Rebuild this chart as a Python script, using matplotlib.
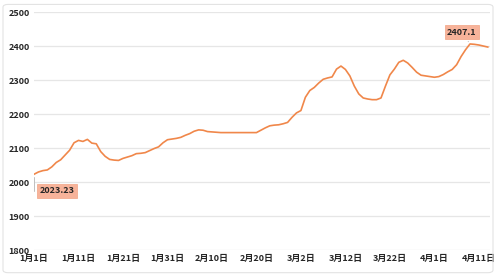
import pandas as pd
import numpy as np
import matplotlib
matplotlib.use("Agg")
import matplotlib.pyplot as plt
from matplotlib.patches import FancyBboxPatch

plt.rcParams['font.family'] = ['Noto Sans CJK SC', 'DejaVu Sans']

# daily index values (1 Jan .. 13 Apr)
start_date = "2023-01-01"
values = [2023.23, 2030, 2034, 2036, 2045, 2058, 2066, 2080, 2094, 2116,
          2123, 2120, 2126, 2115, 2113, 2090, 2076, 2067, 2065, 2064,
          2070, 2074, 2078, 2084, 2085, 2087, 2093, 2099, 2104, 2116,
          2125, 2127, 2129, 2132, 2138, 2143, 2150, 2154, 2153, 2149,
          2148, 2147, 2146, 2146, 2146, 2146, 2146, 2146, 2146, 2146,
          2146, 2153, 2160, 2166, 2168, 2169, 2172, 2176, 2191, 2204,
          2211, 2250, 2270, 2279, 2292, 2303, 2307, 2310, 2333, 2342,
          2332, 2313, 2283, 2260, 2248, 2245, 2243, 2243, 2248, 2283,
          2316, 2333, 2353, 2359, 2351, 2338, 2324, 2315, 2313, 2311,
          2309, 2311, 2317, 2325, 2332, 2346, 2370, 2390, 2407.1, 2406,
          2404, 2401, 2398]
dates = pd.date_range(start_date, periods=len(values), freq="D")

tick_dates = pd.date_range(start_date, periods=11, freq="10D")
y_ticks = [1800, 1900, 2000, 2100, 2200, 2300, 2400, 2500]

line_color = "#F0874A"
box_color = "#F7B39A"

fig = plt.figure(figsize=(5, 2.76), dpi=100)
ax = fig.add_axes([0.068, 0.094, 0.912, 0.861])

# rounded outer frame
frame = FancyBboxPatch((0.006, 0.012), 0.98, 0.972, boxstyle="round,pad=0,rounding_size=0.01",
                       transform=fig.transFigure, facecolor="none", edgecolor="#e3e3e3", linewidth=0.8)
fig.patches.append(frame)

ax.plot(dates, values, color=line_color, linewidth=1.2)

ax.set_ylim(1800, 2500)
ax.set_yticks(y_ticks)
ax.set_xlim(dates[0], dates[0] + pd.Timedelta(days=102.5))
ax.set_xticks(tick_dates)
ax.set_xticklabels([f"{d.month}月{d.day}日" for d in tick_dates])

ax.grid(axis="y", color="#e6e6e6", linewidth=0.9)
ax.set_axisbelow(True)
for s in ax.spines.values():
    s.set_visible(False)
ax.tick_params(length=0, labelsize=6.5, colors="#262626", pad=3)
for lab in ax.get_xticklabels() + ax.get_yticklabels():
    lab.set_fontweight("bold")

# data labels for first and max points
imax = int(np.argmax(values))
ax.annotate(f"{values[0]}", xy=(dates[0], values[0]), xytext=(16.5, -12),
            textcoords="offset points", ha="center", va="center", fontsize=6.5,
            fontweight="bold", color="#262626",
            bbox=dict(boxstyle="square,pad=0.25", facecolor=box_color, edgecolor="#F2A383", linewidth=0.5),
            arrowprops=dict(arrowstyle="-", color="#bfbfbf", linewidth=0.7,
                            connectionstyle="angle,angleA=0,angleB=90,rad=0"))
ax.annotate(f"{values[imax]}", xy=(dates[imax], values[imax]), xytext=(-6, 8.5),
            textcoords="offset points", ha="center", va="center", fontsize=6.5,
            fontweight="bold", color="#262626",
            bbox=dict(boxstyle="square,pad=0.25", facecolor=box_color, edgecolor="#F2A383", linewidth=0.5),
            arrowprops=dict(arrowstyle="-", color="#bfbfbf", linewidth=0.7))

fig.savefig("out.png", dpi=100)
